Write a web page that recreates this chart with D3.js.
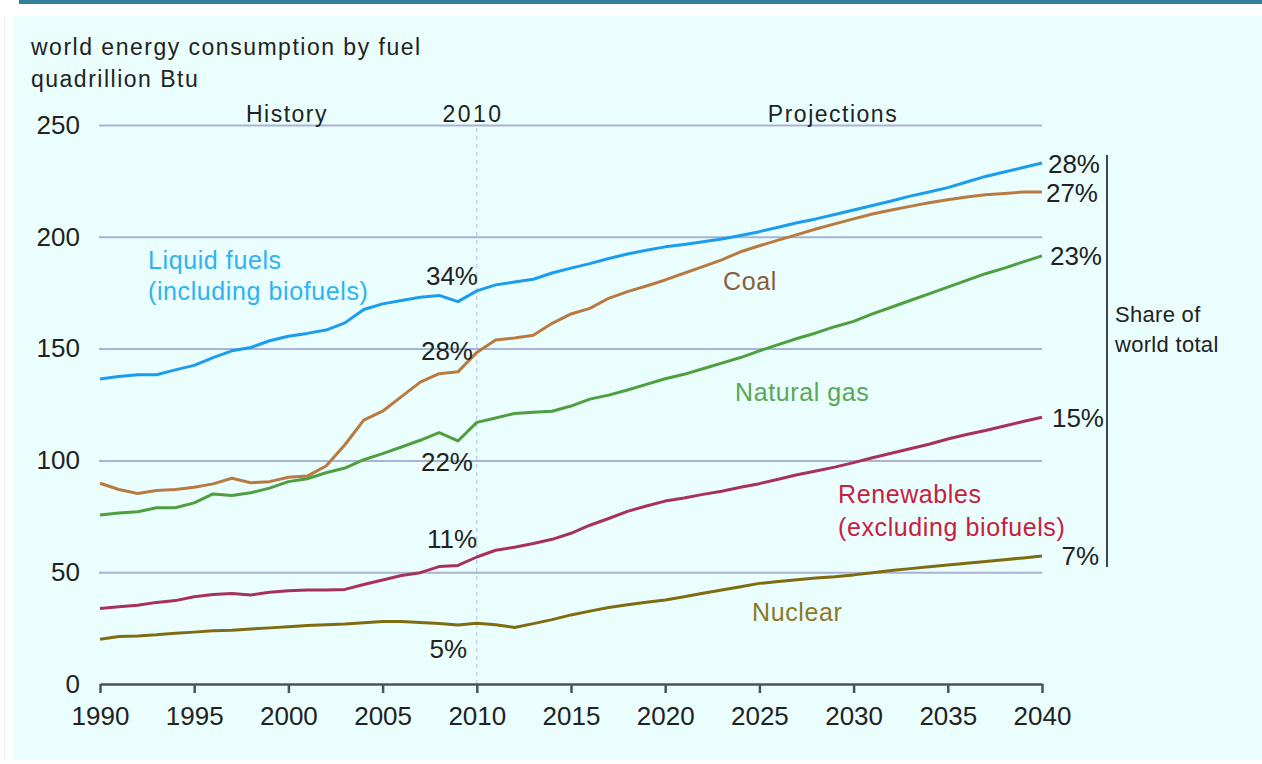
<!DOCTYPE html>
<html>
<head>
<meta charset="utf-8">
<script src="https://cdn.jsdelivr.net/npm/d3@7"></script>
<style>
  body { margin: 0; background: #ffffff; }
  svg { display: block; font-family: "Liberation Sans", Arial, sans-serif; }
</style>
</head>
<body>
<div id="container"></div>
<script>
// Years 1990..2040
const years = d3.range(1990, 2041);

// quadrillion Btu
const liquids = [136.4, 137.5, 138.3, 138.3, 140.5, 142.5, 146, 149, 150.5, 153.5,
  155.5, 156.8, 158.3, 161.5, 167.5, 170, 171.5, 173, 173.8, 171,
  175.8, 178.5, 179.8, 181, 183.8, 186, 188, 190.3, 192.3, 194,
  195.5, 196.6, 197.8, 199, 200.6, 202.3, 204.3, 206.3, 208, 210,
  212, 214, 216, 218.2, 220, 222, 224.5, 227, 229, 231, 233];
const coal = [89.8, 87, 85.2, 86.5, 87, 88, 89.5, 92, 90, 90.5,
  92.5, 93, 97.5, 107, 118, 122, 128.5, 135, 138.8, 139.6,
  148.3, 153.8, 154.7, 156, 161.3, 165.5, 168, 172.5, 175.5, 178,
  180.7, 183.7, 186.7, 189.7, 193.3, 196, 198.5, 201, 203.5, 205.8,
  208, 210.2, 212, 213.6, 215.2, 216.6, 217.8, 218.8, 219.4, 220, 220];
const naturalGas = [75.6, 76.5, 77, 78.8, 78.8, 81, 85, 84.3, 85.5, 87.6,
  90.5, 91.8, 94.5, 96.6, 100.3, 103, 106, 109, 112.4, 108.7,
  117, 119, 121, 121.5, 122, 124.3, 127.4, 129.2, 131.5, 134,
  136.5, 138.5, 141, 143.5, 146, 149, 151.8, 154.5, 157, 159.8,
  162.2, 165.5, 168.5, 171.5, 174.5, 177.5, 180.5, 183.5, 186, 188.8, 191.5];
const renewables = [33.8, 34.5, 35.2, 36.5, 37.3, 39, 40, 40.5, 39.8, 41,
  41.7, 42, 42, 42.3, 44.5, 46.5, 48.5, 49.8, 52.5, 53,
  56.8, 59.8, 61.2, 62.8, 64.7, 67.4, 71, 74, 77.2, 79.6,
  81.8, 83.2, 84.8, 86.2, 88, 89.6, 91.6, 93.6, 95.3, 97,
  99, 101.2, 103.2, 105.2, 107.2, 109.6, 111.6, 113.4, 115.4, 117.4, 119.3];
const nuclear = [20, 21.2, 21.5, 22, 22.7, 23.2, 23.8, 24, 24.6, 25.1,
  25.6, 26.2, 26.5, 26.8, 27.4, 27.9, 27.9, 27.5, 27.1, 26.4,
  27.2, 26.5, 25.3, 27, 28.8, 30.9, 32.6, 34.2, 35.4, 36.6,
  37.6, 39, 40.6, 42, 43.5, 45, 45.8, 46.6, 47.4, 48, 48.8,
  49.8, 50.8, 51.6, 52.4, 53.2, 54, 54.8, 55.6, 56.4, 57.2];

const seriesNames = ["Liquid fuels", "Coal", "Natural gas", "Renewables", "Nuclear"];
const share2010 = ["34%", "28%", "22%", "11%", "5%"];
const share2040 = ["28%", "27%", "23%", "15%", "7%"];

const yTicks = [0, 50, 100, 150, 200, 250];
const xTicks = d3.range(1990, 2041, 5);
const splitYear = 2010;

const width = 1262, height = 764;

// Styles for each series (same order as seriesNames)
const lineColors = ["#1b9ced", "#b97a42", "#4f9e3f", "#a8315a", "#7e6c10"];
const textColors = ["#2fb2f2", "#8a5c3e", "#5aa757", "#c8203c", "#8a7828"];

var svg = d3.select("#container")
  .append("svg")
  .attr("width", width)
  .attr("height", height);

// Frame: teal strip on top, pale cyan panel
svg.append("rect").attr("x", 19).attr("y", 0).attr("width", width - 19).attr("height", 4).attr("fill", "#2f7f98");
svg.append("rect").attr("x", 13).attr("y", 16).attr("width", width - 13).attr("height", 744).attr("fill", "#eafefe");
svg.append("line").attr("x1", 4.5).attr("x2", 4.5).attr("y1", 16).attr("y2", 760).attr("stroke", "#ececec");

// Scales
var x = d3.scaleLinear().domain([1990, 2040]).range([100, 1042]);
var y = d3.scaleLinear().domain([0, 250]).range([684, 125]);

// Gridlines
var grid = svg.append("g")
  .attr("transform", "translate(99,0)")
  .call(d3.axisRight(y).tickValues(yTicks.filter(d => d > 0)).tickSize(943).tickFormat(""));
grid.select(".domain").remove();
grid.selectAll("line").attr("stroke", "#a9b2d4").attr("stroke-width", 2);

// 2010 divider
svg.append("line")
  .attr("x1", x(splitYear)).attr("x2", x(splitYear))
  .attr("y1", 128).attr("y2", y(0))
  .attr("stroke", "#a9c0ee")
  .attr("stroke-width", 1)
  .attr("stroke-dasharray", "4,4");

// Y axis labels
var yAxis = svg.append("g")
  .attr("transform", "translate(80,0)")
  .call(d3.axisLeft(y).tickValues(yTicks).tickSize(0).tickPadding(0));
yAxis.select(".domain").remove();
yAxis.selectAll("text")
  .attr("fill", "#222")
  .style("font-size", "26px")
  .style("font-family", "Liberation Sans, Arial, sans-serif");

// X axis
var xAxis = svg.append("g")
  .attr("transform", "translate(0," + y(0) + ")")
  .call(d3.axisBottom(x).tickValues(xTicks).tickSize(9).tickSizeOuter(0).tickPadding(14).tickFormat(d3.format("d")));
xAxis.select(".domain").attr("stroke", "#4a5358").attr("stroke-width", 2.5);
xAxis.selectAll("line").attr("stroke", "#4a5358").attr("stroke-width", 2.5);
xAxis.selectAll("text")
  .attr("fill", "#222")
  .style("font-size", "26px")
  .style("font-family", "Liberation Sans, Arial, sans-serif");

// Lines
const allSeries = [liquids, coal, naturalGas, renewables, nuclear];
var line = d3.line()
  .x((d, i) => x(years[i]))
  .y(d => y(d));

allSeries.forEach((vals, i) => {
  svg.append("path")
    .datum(vals)
    .attr("fill", "none")
    .attr("stroke", lineColors[i])
    .attr("stroke-width", 3)
    .attr("stroke-linejoin", "round")
    .attr("d", line);
});

// Titles
function addText(tx, ty, str, size, color, anchor, spacing)
{
  return svg.append("text")
    .attr("x", tx)
    .attr("y", ty)
    .attr("text-anchor", anchor || "start")
    .attr("fill", color)
    .style("font-size", size + "px")
    .style("letter-spacing", (spacing || 0) + "px")
    .text(str);
}

addText(31, 55, "world energy consumption by fuel", 23, "#222", "start", 1.5);
addText(31, 87, "quadrillion Btu", 23, "#222", "start", 1.5);
addText(287, 122, "History", 23, "#222", "middle", 1.5);
addText(473, 122, String(splitYear), 23, "#222", "middle", 2.5);
addText(833, 122, "Projections", 23, "#222", "middle", 1.5);

// Series labels
addText(148, 269, "Liquid fuels", 25, textColors[0], "start", 0.6);
addText(148, 300, "(including biofuels)", 25, textColors[0], "start", 0.6);
addText(723, 290, "Coal", 25, textColors[1], "start", 0.6);
addText(735, 401, "Natural gas", 25, textColors[2], "start", 0.6);
addText(838, 503, "Renewables", 25, textColors[3], "start", 0.6);
addText(838, 536, "(excluding biofuels)", 25, textColors[3], "start", 0.6);
addText(752, 621, "Nuclear", 25, textColors[4], "start", 0.6);

// Shares at 2010
const share2010Pos = [[478, 285], [473, 360], [473, 471], [477, 548], [467, 658]];
share2010.forEach((s, i) => {
  addText(share2010Pos[i][0], share2010Pos[i][1], s, 26, "#222", "end", 0);
});

// Shares at 2040
const share2040Pos = [[1100, 173], [1098, 202], [1102, 265], [1104, 427], [1099, 565]];
share2040.forEach((s, i) => {
  addText(share2040Pos[i][0], share2040Pos[i][1], s, 26, "#222", "end", 0);
});

// Bracket and caption
svg.append("line")
  .attr("x1", 1107).attr("x2", 1107)
  .attr("y1", 155).attr("y2", 567)
  .attr("stroke", "#3f4650")
  .attr("stroke-width", 2);
addText(1115, 322, "Share of", 22, "#222", "start", 0.3);
addText(1115, 352, "world total", 22, "#222", "start", 0.3);
</script>
</body>
</html>
